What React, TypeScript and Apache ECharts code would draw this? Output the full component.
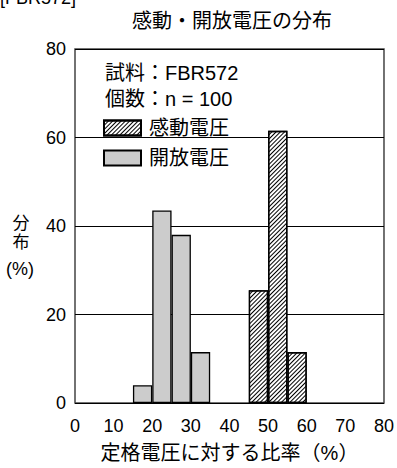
import React, { useEffect, useRef } from "react";
import * as echarts from "echarts";

// Histogram bins (lower edge of each 5 % class)
const binStarts = ["0", "5", "10", "15", "20", "25", "30", "35", "40", "45", "50", "55", "60", "65", "70", "75"];

// 感動電圧 (operate voltage) distribution, %
const operateBins = ["45", "50", "55"];
const operateValues = [25.5, 61.5, 11.5];

// 開放電圧 (release voltage) distribution, %
const releaseBins = ["15", "20", "25", "30"];
const releaseValues = [4, 43.5, 38, 11.5];

const xTicks = [0, 80, 10]; // min, max, interval of the ratio axis
const yTicks = [0, 80, 20]; // min, max, interval of the distribution axis

const sampleLines = ["試料：FBR572", "個数：n = 100"];
const seriesNames = ["感動電圧", "開放電圧"];

const FONT = "'Liberation Sans', 'Noto Sans CJK JP', sans-serif";

function toBinData(bins: string[], values: number[]) {
  return binStarts.map((b) => {
    const i = bins.indexOf(b);
    return i >= 0 ? values[i] : null;
  });
}

export default function App() {
  const ref = useRef<HTMLDivElement>(null);

  useEffect(() => {
    if (!ref.current) return;
    const chart = echarts.init(ref.current, null, { renderer: "svg" });

    const hatch = {
      symbol: "rect",
      symbolSize: 1,
      dashArrayX: [1, 0],
      dashArrayY: [0.5, 2],
      rotation: -Math.PI / 4,
      color: "#000",
    };

    chart.setOption({
      animation: false,
      textStyle: { fontFamily: FONT, color: "#000" },
      grid: {
        left: 75,
        right: 13,
        top: 49,
        bottom: 55,
        show: true,
        borderColor: "#444",
        borderWidth: 1.5,
        backgroundColor: "transparent",
      },
      legend: {
        orient: "vertical",
        left: 103,
        top: 118,
        padding: 0,
        itemWidth: 37,
        itemHeight: 15,
        itemGap: 10,
        icon: "rect",
        textStyle: { fontSize: 20, color: "#000", fontFamily: FONT, padding: [0, 0, 0, 3] },
        data: seriesNames,
      },
      xAxis: [
        {
          type: "category",
          data: binStarts,
          show: false,
          boundaryGap: true,
        },
        {
          type: "value",
          min: xTicks[0],
          max: xTicks[1],
          interval: xTicks[2],
          position: "bottom",
          axisLine: { show: false },
          axisTick: { show: false },
          splitLine: { show: false },
          axisLabel: { fontSize: 18, color: "#000", margin: 14, fontFamily: FONT },
          name: "定格電圧に対する比率（%）",
          nameLocation: "middle",
          nameGap: 40,
          nameTextStyle: { fontSize: 20, color: "#000", fontFamily: FONT },
        },
      ],
      yAxis: {
        type: "value",
        min: yTicks[0],
        max: yTicks[1],
        interval: yTicks[2],
        axisLine: { show: false },
        axisTick: { show: false },
        axisLabel: { fontSize: 18, color: "#000", margin: 9, fontFamily: FONT },
        splitLine: { show: true, lineStyle: { color: "#000", width: 1 } },
      },
      graphic: [
        {
          type: "text",
          left: 0,
          top: -11,
          style: { text: "[FBR572]", fontSize: 18, fill: "#000", fontFamily: FONT },
        },
        {
          type: "text",
          x: 232,
          y: 21,
          style: {
            text: "感動・開放電圧の分布",
            fontSize: 20,
            fill: "#000",
            fontFamily: FONT,
            align: "center",
            verticalAlign: "middle",
          },
        },
        ...sampleLines.map((t, i) => ({
          type: "text",
          x: 105,
          y: 73 + i * 26,
          style: { text: t, fontSize: 20, fill: "#000", fontFamily: FONT, verticalAlign: "middle" },
        })),
        {
          type: "text",
          x: 21,
          y: 223,
          style: { text: "分", fontSize: 17, fill: "#000", fontFamily: FONT, align: "center", verticalAlign: "middle" },
        },
        {
          type: "text",
          x: 21,
          y: 242,
          style: { text: "布", fontSize: 17, fill: "#000", fontFamily: FONT, align: "center", verticalAlign: "middle" },
        },
        {
          type: "text",
          x: 20,
          y: 269,
          style: { text: "(%)", fontSize: 18, fill: "#000", fontFamily: FONT, align: "center", verticalAlign: "middle" },
        },
      ],
      series: [
        {
          name: seriesNames[0],
          type: "bar",
          xAxisIndex: 0,
          data: toBinData(operateBins, operateValues),
          barWidth: "100%",
          barGap: "-100%",
          itemStyle: { color: "#fff", borderColor: "#000", borderWidth: 1.3, decal: hatch },
        },
        {
          name: seriesNames[1],
          type: "bar",
          xAxisIndex: 0,
          data: toBinData(releaseBins, releaseValues),
          barWidth: "100%",
          barGap: "-100%",
          itemStyle: { color: "#cccccc", borderColor: "#000", borderWidth: 1.3 },
        },
      ],
    });

    return () => chart.dispose();
  }, []);

  return (
    <div
      ref={ref}
      style={{ position: "fixed", left: 0, top: 0, width: 397, height: 468, background: "#fff" }}
    />
  );
}
